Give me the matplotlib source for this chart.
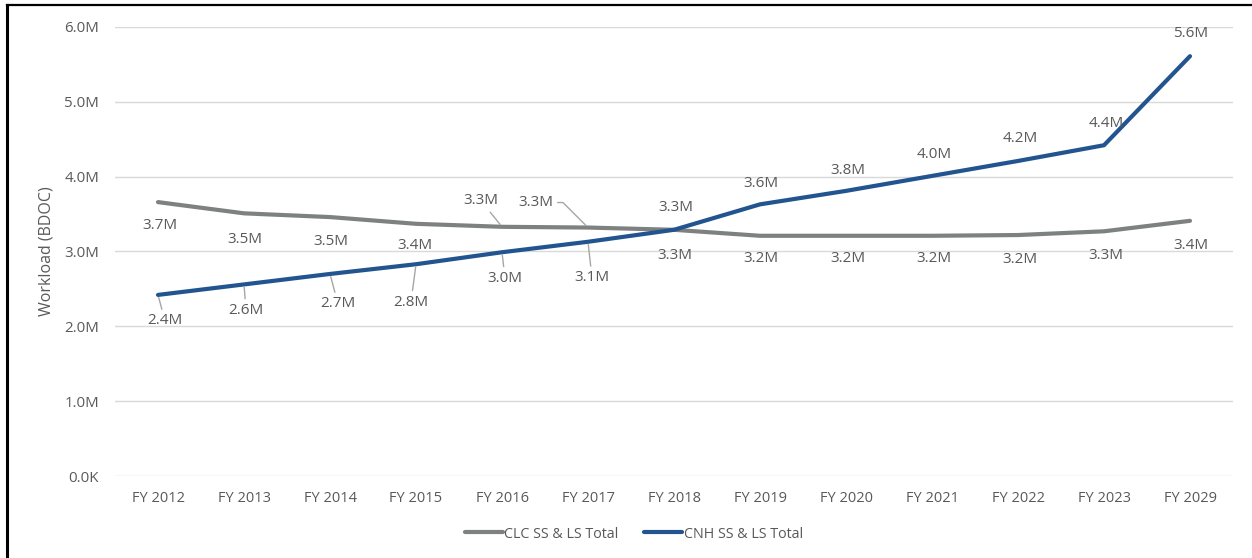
import matplotlib.pyplot as plt
from matplotlib.lines import Line2D
from matplotlib.ticker import FuncFormatter

plt.rcParams['font.family'] = ['Open Sans', 'DejaVu Sans']

years = ['FY 2012', 'FY 2013', 'FY 2014', 'FY 2015', 'FY 2016', 'FY 2017', 'FY 2018',
         'FY 2019', 'FY 2020', 'FY 2021', 'FY 2022', 'FY 2023', 'FY 2029']
clc_total = [3.66, 3.51, 3.46, 3.37, 3.33, 3.32, 3.29, 3.21, 3.21, 3.21, 3.22, 3.27, 3.41]
cnh_total = [2.42, 2.56, 2.70, 2.83, 2.99, 3.13, 3.29, 3.63, 3.81, 4.01, 4.21, 4.42, 5.61]

# label offsets in pixels (dx, dy) relative to each point
clc_off = [(2, -23), (1, -26), (1, -24), (-1, -22), (-21, 26), (-52, 25), (1, -26),
           (1, -23), (2, -23), (2, -23), (2, -24), (2, -24), (1, -25)]
cnh_off = [(7, -26), (2, -26), (8, -30), (-5, -38), (3, -26), (4, -36), (2, 22),
           (1, 21), (2, 20), (2, 21), (2, 22), (2, 22), (1, 23)]
# leader style per label: None, 'arc' (straight) or 'elbow'
clc_leader = [None, None, None, None, 'arc', 'elbow'] + [None] * 7
cnh_leader = ['arc'] * 6 + [None] * 7

gray = '#7d8280'
blue = '#22548f'
txt = '#595959'

fig = plt.figure(figsize=(12.52, 5.58), dpi=100)
ax = fig.add_axes([115 / 1252, 1 - 476 / 558, 1118 / 1252, 449 / 558])

x = list(range(len(years)))
ax.plot(x, [v * 1e6 for v in clc_total], color=gray, lw=3, solid_capstyle='round',
        label='CLC SS & LS Total', zorder=3)
ax.plot(x, [v * 1e6 for v in cnh_total], color=blue, lw=3, solid_capstyle='round',
        label='CNH SS & LS Total', zorder=4)

def label_series(vals, offs, leaders):
    for i, v in enumerate(vals):
        dx, dy = offs[i]
        props = None
        if leaders[i]:
            props = dict(arrowstyle='-', color='#a6a6a6', lw=1, shrinkA=1, shrinkB=2)
            if leaders[i] == 'elbow':
                props['connectionstyle'] = 'angle,angleA=0,angleB=135,rad=0'
        ax.annotate(f'{v:.1f}M', xy=(i, v * 1e6), xytext=(dx, dy),
                    textcoords='offset pixels', ha='center', va='center',
                    fontsize=11, color=txt, arrowprops=props, zorder=5)

label_series(clc_total, clc_off, clc_leader)
label_series(cnh_total, cnh_off, cnh_leader)

ax.set_xlim(-0.5, len(years) - 0.5)
ax.set_ylim(0, 6e6)
ax.set_yticks([i * 1e6 for i in range(7)])
ax.yaxis.set_major_formatter(FuncFormatter(lambda v, p: '0.0K' if v == 0 else f'{v / 1e6:.1f}M'))
ax.set_xticks(x)
ax.set_xticklabels(years)
ax.tick_params(axis='both', length=0, colors=txt)
ax.tick_params(axis='y', pad=11.5, labelsize=10.8)
ax.tick_params(axis='x', pad=11, labelsize=10.5)
ax.grid(axis='y', color='#d9d9d9', lw=1)
ax.set_axisbelow(True)
for s in ax.spines.values():
    s.set_visible(False)
ax.set_ylabel('Workload (BDOC)', fontsize=11.5, color=txt)
ax.yaxis.set_label_coords(-0.054, 0.5)

fig.legend(loc='center', bbox_to_anchor=(634 / 1252, 1 - 534 / 558), ncol=2, frameon=False,
           fontsize=10.3, labelcolor=txt, handlelength=2.65, handletextpad=0.1,
           columnspacing=1.8)

# outer frame on the left and top edges
fig.add_artist(Line2D([7 / 1252, 7 / 1252], [0, 1 - 5 / 558], color='black', lw=2.2,
                      transform=fig.transFigure))
fig.add_artist(Line2D([7 / 1252, 1], [1 - 5 / 558, 1 - 5 / 558], color='black', lw=1.6,
                      transform=fig.transFigure))

fig.savefig('out.png', dpi=100)
